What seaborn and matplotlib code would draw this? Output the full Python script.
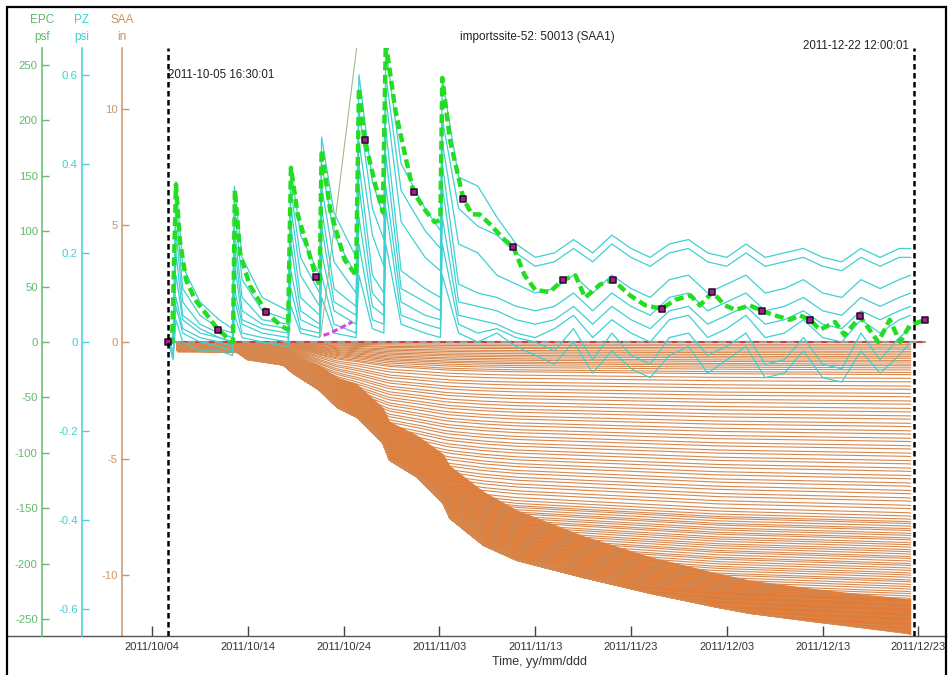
import matplotlib.pyplot as plt
import matplotlib.dates as mdates
from matplotlib.patches import Rectangle
import numpy as np
import pandas as pd
import seaborn as sns

sns.set_theme(style="white")
plt.rcParams["font.family"] = ["Liberation Sans Narrow", "Liberation Sans", "DejaVu Sans"]

W, H = 951, 675
T0 = pd.Timestamp("2011-10-04")
START = pd.Timestamp("2011-10-05 16:30:01")
END = pd.Timestamp("2011-12-22 12:00:01")
TICK_DATES = pd.date_range("2011-10-04", periods=9, freq="10D")

EPC_COLOR = "#62b96c"
PZ_COLOR = "#3ed0d3"
SAA_COLOR = "#c9966c"

# --- data (days after 2011-10-04) ---
green_days = [1.67, 2.1, 2.5, 2.9, 3.55, 4.5, 5.5, 6.9, 7.6, 8.1,
              8.45, 8.65, 9.2, 10.2, 11.9, 13.4, 14.2, 14.5, 15.2, 16.3,
              17.1, 17.5, 17.7, 18.6, 20.1, 21.3, 21.6, 22.2, 23.3, 24.1,
              24.4, 25.4, 26.4, 27.3, 28.5, 29.5, 30.1, 30.3, 31.1, 32.5,
              33.4, 34.2, 35.3, 36.8, 37.7, 38.9, 40.0, 41.5, 42.9, 44.2,
              45.2, 46.8, 48.1, 49.9, 51.5, 53.2, 54.6, 56.2, 57.2, 58.5,
              59.8, 60.9, 62.4, 63.7, 65.0, 66.6, 67.6, 68.7, 69.7, 71.3,
              72.3, 73.9, 74.9, 75.8, 77.0, 78.1, 79.1, 80.7]
green_psf = [0, 0, 142, 92, 56, 38, 27, 11, 6, 0,
             0, 137, 79, 51, 27, 15, 11, 157, 115, 83,
             59, 51, 173, 119, 74, 60, 229, 182, 142, 117,
             270, 209, 169, 135, 119, 108, 110, 238, 182, 129,
             115, 115, 106, 92, 86, 60, 47, 45, 56, 60,
             40, 52, 56, 42, 33, 30, 38, 42, 33, 45,
             33, 29, 33, 28, 24, 20, 24, 20, 11, 18,
             6, 23, 11, 0, 20, 0, 15, 20]
marker_days = [1.67, 6.9, 11.9, 17.1, 22.2, 27.3, 32.5, 37.7, 42.9, 48.1,
               53.2, 58.5, 63.7, 68.7, 73.9, 80.7]
marker_psf = [0, 11, 27, 59, 182, 135, 129, 86, 56, 56, 30, 45, 28, 20, 23, 20]

stray_days = [17.6, 21.5]
stray_psf = [5, 275]
pink_days = [17.9, 18.6, 20.9]
pink_psf = [6, 8, 18]

pz_days = [1.7, 2.2, 2.5, 3.2, 5.0, 7.0, 8.4, 8.6, 9.4, 11.5,
           14.2, 14.5, 15.5, 17.5, 17.7, 19.0, 21.3, 21.6, 23.0, 24.2,
           24.4, 26.0, 28.5, 30.1, 30.3, 32.0, 34.0, 36.0, 38.0, 40.0,
           42, 44, 46, 48, 50, 52, 54, 56, 58, 60,
           62, 64, 66, 68, 70, 72, 74, 76, 78, 79.2]
pz_a = [0, 0, 0.36, 0.17, 0.09, 0.05, 0.03, 0.35, 0.19, 0.10,
        0.07, 0.39, 0.24, 0.15, 0.46, 0.29, 0.19, 0.60, 0.36, 0.28,
        0.66, 0.40, 0.30, 0.25, 0.59, 0.37, 0.35, 0.28, 0.22, 0.19,
        0.20, 0.23, 0.20, 0.24, 0.21, 0.19, 0.22, 0.23, 0.20, 0.19,
        0.22, 0.19, 0.20, 0.21, 0.19, 0.18, 0.21, 0.19, 0.21, 0.21]
pz_b = [0, 0, 0.30, 0.12, 0.06, 0.03, 0.02, 0.30, 0.14, 0.07,
        0.05, 0.34, 0.19, 0.11, 0.40, 0.24, 0.15, 0.52, 0.30, 0.23,
        0.60, 0.34, 0.25, 0.21, 0.50, 0.30, 0.26, 0.24, 0.20, 0.17,
        0.18, 0.21, 0.18, 0.22, 0.19, 0.17, 0.20, 0.21, 0.18, 0.17,
        0.20, 0.17, 0.18, 0.19, 0.17, 0.16, 0.19, 0.17, 0.19, 0.19]
pz_c = [0, 0, 0.25, 0.09, 0.04, 0.02, 0.01, 0.25, 0.10, 0.05,
        0.04, 0.30, 0.15, 0.08, 0.35, 0.18, 0.11, 0.45, 0.24, 0.17,
        0.55, 0.27, 0.19, 0.16, 0.45, 0.22, 0.20, 0.15, 0.13, 0.11,
        0.12, 0.15, 0.11, 0.15, 0.12, 0.10, 0.14, 0.15, 0.11, 0.13,
        0.15, 0.11, 0.12, 0.14, 0.11, 0.10, 0.14, 0.12, 0.14, 0.15]
pz_d = [0, 0, 0.20, 0.06, 0.03, 0.01, 0.0, 0.22, 0.07, 0.04,
        0.03, 0.26, 0.10, 0.06, 0.30, 0.12, 0.08, 0.40, 0.15, 0.11,
        0.48, 0.16, 0.12, 0.10, 0.40, 0.13, 0.11, 0.10, 0.08, 0.07,
        0.08, 0.11, 0.07, 0.11, 0.08, 0.06, 0.10, 0.11, 0.07, 0.09,
        0.11, 0.07, 0.08, 0.10, 0.07, 0.06, 0.10, 0.08, 0.10, 0.11]
pz_e = [0, 0, 0.15, 0.05, 0.02, 0.01, 0.0, 0.18, 0.05, 0.03,
        0.02, 0.22, 0.07, 0.04, 0.26, 0.09, 0.06, 0.35, 0.11, 0.08,
        0.42, 0.12, 0.09, 0.07, 0.35, 0.09, 0.08, 0.07, 0.05, 0.04,
        0.05, 0.08, 0.04, 0.08, 0.05, 0.03, 0.07, 0.08, 0.04, 0.06,
        0.08, 0.04, 0.05, 0.07, 0.04, 0.03, 0.07, 0.05, 0.07, 0.08]
pz_f = [0, -0.02, 0.10, 0.03, 0.01, 0.0, -0.01, 0.12, 0.04, 0.02,
        0.01, 0.16, 0.05, 0.03, 0.20, 0.07, 0.04, 0.28, 0.08, 0.06,
        0.35, 0.09, 0.06, 0.05, 0.28, 0.06, 0.05, 0.04, 0.02, 0.01,
        0.03, 0.06, 0.01, 0.05, 0.02, 0.0, 0.05, 0.06, 0.01, 0.03,
        0.06, 0.01, 0.02, 0.05, 0.01, 0.0, 0.05, 0.02, 0.05, 0.06]
pz_g = [0, -0.03, 0.08, 0.02, 0.0, -0.01, -0.02, 0.10, 0.02, 0.01,
        0.0, 0.12, 0.03, 0.02, 0.15, 0.04, 0.02, 0.22, 0.05, 0.04,
        0.30, 0.06, 0.04, 0.03, 0.22, 0.04, 0.02, 0.03, 0.01, 0.0,
        -0.02, 0.03, -0.04, 0.02, -0.03, -0.05, 0.01, 0.02, -0.03, -0.01,
        0.02, -0.05, -0.04, 0.01, -0.05, -0.06, 0.02, -0.04, 0.01, 0.03]
pz_h = [0, -0.04, 0.05, 0.0, -0.02, -0.02, -0.03, 0.06, 0.01, 0.0,
        -0.01, 0.08, 0.02, 0.01, 0.10, 0.02, 0.01, 0.15, 0.03, 0.02,
        0.22, 0.04, 0.02, 0.01, 0.15, 0.02, 0.0, 0.02, -0.01, -0.03,
        -0.05, 0.0, -0.07, -0.02, -0.06, -0.08, -0.03, -0.01, -0.07, -0.04,
        -0.01, -0.08, -0.07, -0.02, -0.08, -0.09, -0.02, -0.07, -0.03, 0.0]

# SAA: deepest segment path, top of the packed band above it, share of final
# movement reached, and final displacement of each segment (in)
saa_env_days = [2.6, 8.9, 9.9, 13.7, 14.7, 17.5, 19.3, 21.4, 24.1, 24.8, 27.7,
                30.4, 31.1, 34.6, 38.1, 45.0, 52.0, 59.0, 62.4, 69.7, 78.8, 79.2]
saa_env_in = [-0.43, -0.45, -0.77, -0.99, -1.33, -2.06, -2.79, -3.22, -4.33, -5.06, -5.79,
              -6.91, -7.55, -8.71, -9.36, -10.09, -10.77, -11.37, -11.63, -12.02, -12.49, -12.53]
saa_band_top_in = [-0.15, -0.15, -0.30, -0.40, -0.60, -1.00, -1.50, -1.80, -2.80, -3.40, -4.00,
                   -4.80, -5.30, -6.40, -7.20, -8.30, -9.20, -9.90, -10.20, -10.60, -11.00, -11.00]
saa_share = [0.03, 0.04, 0.06, 0.09, 0.15, 0.40, 0.52, 0.60, 0.72, 0.75, 0.80,
             0.85, 0.86, 0.89, 0.91, 0.93, 0.95, 0.97, 0.975, 0.985, 0.998, 1.0]
saa_final_in = [-0.10, -0.17, -0.25, -0.31, -0.40, -0.47, -0.55, -0.63, -0.70, -0.79,
                -0.86, -0.95, -1.02, -1.11, -1.20, -1.31, -1.40, -1.56, -1.71, -1.89,
                -2.03, -2.21, -2.35, -2.53, -2.67, -2.85, -3.00, -3.17, -3.31, -3.49,
                -3.63, -3.81, -3.95, -4.13, -4.27, -4.45, -4.59, -4.77, -4.91, -5.09,
                -5.23, -5.41, -5.55, -5.73, -5.87, -6.05, -6.19, -6.37, -6.51, -6.69,
                -6.83, -7.01, -7.15, -7.33, -7.47, -7.60, -7.71, -7.79, -7.90, -8.01,
                -8.09, -8.21, -8.30, -8.41, -8.49, -8.61, -8.70, -8.80, -8.91, -9.00,
                -9.10, -9.21, -9.29, -9.40, -9.51, -9.59, -9.70, -9.80, -9.91, -10.00,
                -10.10, -10.21, -10.29, -10.40, -10.50, -10.60, -10.71, -10.80, -10.90, -11.00,
                -11.20, -11.40, -11.60, -11.80, -12.00, -12.20, -12.40, -12.53]


def to_dates(days):
    return T0 + pd.to_timedelta(np.asarray(days, dtype=float), unit="D")


fig = plt.figure(figsize=(W / 100, H / 100), dpi=100)
ax = fig.add_axes([7 / W, 1 - 636 / H, 939 / W, 588 / H])
ax_pz = ax.twinx()
ax_epc = ax.twinx()

# --- SAA (main axes) ---
env = np.array(saa_env_in)
share = np.array(saa_share)
env_dates = to_dates(saa_env_days)
rows = []
for i, fin in enumerate(saa_final_in):
    path = np.maximum(env, fin * share)
    for d, v in zip(env_dates, path):
        rows.append((i, d, v))
saa_df = pd.DataFrame(rows, columns=["seg", "date", "disp"])
ax.fill_between(env_dates, saa_band_top_in, env, color="#e07c38", lw=0, zorder=1)
sns.lineplot(data=saa_df, x="date", y="disp", units="seg", estimator=None,
             color="#d6884f", lw=0.8, ax=ax, zorder=2)
zero_dates = to_dates([1.67, 80.7])
ax.plot(zero_dates, [0, 0], color="#9a9a9a", lw=1.6, zorder=3)
ax.plot(zero_dates, [0, 0], color="#d93a3a", lw=1.4, ls=(0, (3, 4)), zorder=4)

# --- PZ ---
pz_rows = []
for name, vals in zip("abcdefgh", [pz_a, pz_b, pz_c, pz_d, pz_e, pz_f, pz_g, pz_h]):
    for d, v in zip(to_dates(pz_days), vals):
        pz_rows.append((name, d, v))
pz_df = pd.DataFrame(pz_rows, columns=["sensor", "date", "psi"])
sns.lineplot(data=pz_df, x="date", y="psi", units="sensor", estimator=None,
             color=PZ_COLOR, lw=0.9, ax=ax_pz)

# --- EPC ---
sns.lineplot(x=to_dates(stray_days), y=stray_psf, color="#9dbb90", lw=0.8, ax=ax_epc)
sns.lineplot(x=to_dates(pink_days), y=pink_psf, color="#e040e0", lw=2.2,
             linestyle=(0, (2, 1)), ax=ax_epc)
sns.lineplot(x=to_dates(green_days), y=green_psf, color="#22dd22", lw=3.2,
             linestyle=(0, (2, 1)), ax=ax_epc)
sns.scatterplot(x=to_dates(marker_days), y=marker_psf, marker="s", s=22,
                color="#a11f8e", edgecolor="#2a0a25", linewidth=1.1, ax=ax_epc, zorder=5)

# --- vertical range markers ---
for t in (START, END):
    ax_epc.axvline(t, color="black", lw=1.8, ls=(0, (2.2, 1.4)), zorder=6)

# --- axes styling ---
xlim = (T0 - pd.Timedelta(days=15.14), T0 + pd.Timedelta(days=82.88))
ax.set_xlim(xlim)
ax.set_ylim(-12.6, 12.6)
ax_pz.set_ylim(-0.66, 0.66)
ax_epc.set_ylim(-265, 265)

axis_specs = [
    (ax, SAA_COLOR, (122 - 7) / 939, [-10, -5, 0, 5, 10]),
    (ax_pz, PZ_COLOR, (82 - 7) / 939, [-0.6, -0.4, -0.2, 0, 0.2, 0.4, 0.6]),
    (ax_epc, EPC_COLOR, (42 - 7) / 939, list(range(-250, 251, 50))),
]
for a, col, pos, ticks in axis_specs:
    for s in ("top", "right", "bottom"):
        a.spines[s].set_visible(False)
    a.spines["left"].set_visible(True)
    a.spines["left"].set_position(("axes", pos))
    a.spines["left"].set_color(col)
    a.spines["left"].set_linewidth(1.1)
    a.yaxis.set_ticks_position("left")
    a.set_yticks(ticks)
    a.set_yticklabels([f"{t:g}" for t in ticks])
    a.tick_params(axis="y", direction="in", length=5, width=1, color=col,
                  labelcolor=col, labelsize=8.2, pad=3)
    a.set_ylabel("")
    a.set_xlabel("")
    a.grid(False)

ax.spines["bottom"].set_visible(True)
ax.spines["bottom"].set_color("#555555")
ax.spines["bottom"].set_linewidth(1.0)
ax.set_xticks(TICK_DATES)
ax.xaxis.set_major_formatter(mdates.DateFormatter("%Y/%m/%d"))
ax.tick_params(axis="x", direction="in", length=7, width=1, color="#444444",
               labelcolor="#333333", labelsize=8, pad=4, bottom=True)
ax.patch.set_visible(False)

# --- texts ---
for x, top, unit, col in [(42, "EPC", "psf", EPC_COLOR), (82, "PZ", "psi", PZ_COLOR),
                          (122, "SAA", "in", SAA_COLOR)]:
    fig.text(x / W, 1 - 20 / H, top, color=col, fontsize=8.5, ha="center", va="center")
    fig.text(x / W, 1 - 37 / H, unit, color=col, fontsize=8.5, ha="center", va="center")

fig.text(537 / W, 1 - 37 / H, "importssite-52: 50013 (SAA1)", fontsize=8.5,
         color="#222222", ha="center", va="center")
fig.text(168 / W, 1 - 75 / H, "2011-10-05 16:30:01", fontsize=8.3, color="#222222",
         ha="left", va="center")
fig.text(909 / W, 1 - 46 / H, "2011-12-22 12:00:01", fontsize=8.3, color="#222222",
         ha="right", va="center")
fig.text(539 / W, 1 - 662 / H, "Time, yy/mm/ddd", fontsize=9, color="#333333",
         ha="center", va="center")

fig.patches.append(Rectangle((7 / W, -0.05), 939 / W, 1.05 - 7 / H, transform=fig.transFigure,
                             fill=False, ec="black", lw=1.6))

fig.savefig("out.png", dpi=100)
